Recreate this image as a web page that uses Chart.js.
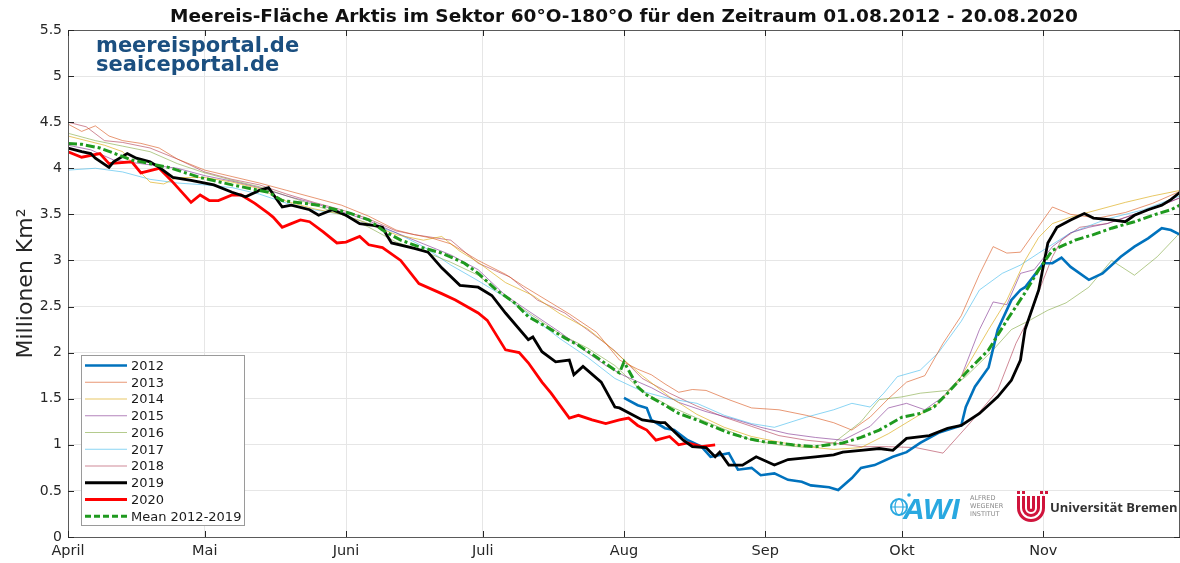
<!DOCTYPE html>
<html lang="de">
<head>
<meta charset="utf-8">
<title>Meereis-Fläche Arktis</title>
<script src="https://cdn.jsdelivr.net/npm/chart.js@4.4.0/dist/chart.umd.min.js"></script>
<style>
  html, body { margin: 0; padding: 0; background: #fff; }
  #wrap { width: 1180px; height: 563px; position: relative; }
  canvas { display: block; }
</style>
</head>
<body>
<div id="wrap"><canvas id="c" width="1180" height="563"></canvas></div>
<script>
// Days counted from 1 April; axis runs to 1 December (day 244).
const monthDays = [0, 30, 61, 91, 122, 153, 183, 214];
const monthNames = ['April', 'Mai', 'Juni', 'Juli', 'Aug', 'Sep', 'Okt', 'Nov'];

// Sea-ice area, million km², per season
const days2012 = [122,125,127,128,131,133,136,139,141,145,147,150,152,155,158,161,163,167,169,172,174,177,181,184,187,191,196,197,199,202,204,207,209,210,213,214,216,218,220,224,227,231,234,237,240,242,244];
const ice2012  = [1.51,1.43,1.40,1.27,1.18,1.16,1.05,0.98,0.87,0.91,0.73,0.75,0.67,0.69,0.62,0.60,0.56,0.54,0.51,0.64,0.75,0.78,0.87,0.92,1.02,1.13,1.21,1.41,1.63,1.84,2.25,2.57,2.68,2.71,2.90,2.97,2.97,3.03,2.93,2.79,2.86,3.04,3.15,3.24,3.35,3.33,3.28];

const days2013 = [0,3,6,9,12,16,20,24,30,36,42,48,54,60,66,72,76,80,84,90,96,100,104,110,116,121,125,128,131,134,137,140,145,150,156,162,168,172,176,180,184,188,192,196,200,203,206,209,212,216,220,226,232,238,244];
const ice2013  = [4.48,4.40,4.46,4.35,4.30,4.27,4.22,4.10,3.98,3.91,3.84,3.76,3.68,3.60,3.48,3.33,3.28,3.24,3.18,3.00,2.85,2.72,2.60,2.42,2.22,1.92,1.82,1.76,1.66,1.57,1.60,1.59,1.49,1.40,1.38,1.32,1.24,1.16,1.30,1.50,1.68,1.75,2.10,2.40,2.85,3.15,3.08,3.09,3.30,3.58,3.50,3.46,3.52,3.62,3.75];

const days2014 = [0,4,8,12,15,18,21,24,30,36,42,48,54,60,66,72,78,82,86,90,96,102,108,114,118,122,126,132,138,144,150,156,162,168,174,180,185,191,196,202,206,210,213,216,220,226,232,238,244];
const ice2014  = [4.35,4.30,4.25,4.18,4.00,3.85,3.83,3.90,3.90,3.85,3.78,3.64,3.56,3.50,3.40,3.28,3.22,3.26,3.10,2.98,2.76,2.62,2.42,2.26,2.10,1.92,1.75,1.52,1.33,1.19,1.09,1.03,0.98,0.95,0.97,1.12,1.27,1.45,1.74,2.25,2.57,3.00,3.25,3.40,3.47,3.55,3.63,3.70,3.76];

const days2015 = [0,5,10,16,24,30,36,42,48,54,60,66,72,78,84,90,96,102,108,114,118,122,128,134,140,146,152,158,164,170,176,180,184,188,192,196,200,203,206,209,212,216,220,224,228,234,240,244];
const ice2015  = [4.25,4.20,4.09,4.05,4.00,3.92,3.86,3.79,3.70,3.62,3.53,3.43,3.30,3.18,3.06,2.90,2.62,2.42,2.22,2.00,1.86,1.75,1.62,1.46,1.36,1.28,1.19,1.12,1.08,1.05,1.20,1.40,1.45,1.38,1.52,1.74,2.25,2.55,2.52,2.86,2.90,3.15,3.30,3.36,3.40,3.50,3.60,3.68];

const days2016 = [0,6,12,18,24,30,36,42,48,54,60,66,72,78,84,90,96,102,108,114,120,126,132,138,144,150,156,162,168,174,178,183,187,193,197,203,207,211,215,219,224,229,234,239,244];
const ice2016  = [4.38,4.30,4.24,4.18,4.05,3.95,3.87,3.80,3.70,3.60,3.50,3.36,3.20,3.10,2.98,2.84,2.60,2.40,2.20,2.05,1.86,1.58,1.42,1.29,1.17,1.05,1.00,0.97,1.02,1.25,1.49,1.52,1.56,1.59,1.74,2.03,2.25,2.35,2.46,2.54,2.71,3.00,2.84,3.04,3.30];

const days2017 = [0,6,12,18,24,30,36,42,48,54,60,66,72,78,84,90,96,102,108,114,120,126,132,138,144,150,155,162,168,172,176,179,182,187,191,196,200,205,209,213,220,228,236,244];
const ice2017  = [3.98,4.00,3.96,3.88,3.84,3.82,3.79,3.72,3.62,3.55,3.50,3.40,3.30,3.15,2.95,2.78,2.60,2.38,2.15,1.95,1.72,1.58,1.50,1.45,1.32,1.23,1.19,1.30,1.38,1.45,1.41,1.56,1.74,1.81,2.00,2.34,2.68,2.86,2.95,3.08,3.30,3.45,3.55,3.70];

const days2018 = [0,4,8,12,18,24,30,36,42,48,54,60,66,72,76,80,84,90,97,103,109,115,120,126,132,138,144,150,156,162,168,174,180,186,192,198,204,208,211,214,216,218,222,228,234,240,244];
const ice2018  = [4.50,4.45,4.30,4.28,4.22,4.10,3.96,3.88,3.82,3.72,3.63,3.55,3.45,3.32,3.28,3.25,3.22,2.97,2.82,2.57,2.43,2.21,2.02,1.72,1.56,1.42,1.30,1.20,1.10,1.05,1.02,0.98,0.98,0.97,0.91,1.24,1.59,2.10,2.39,2.79,3.04,3.22,3.36,3.40,3.50,3.60,3.68];

const days2019 = [0,3,5,6,9,10,13,15,18,20,23,27,32,36,39,42,44,47,49,53,55,58,61,64,67,69,70,71,76,79,82,86,90,93,96,101,102,104,107,110,111,113,117,120,121,126,130,131,135,137,140,142,143,145,148,151,155,158,164,168,170,174,178,181,184,189,193,196,200,204,207,209,210,213,215,217,220,223,225,229,232,234,237,240,242,244];
const ice2019  = [4.22,4.18,4.16,4.11,4.01,4.07,4.16,4.11,4.07,4.01,3.90,3.87,3.82,3.74,3.69,3.76,3.79,3.58,3.60,3.55,3.49,3.55,3.49,3.40,3.38,3.36,3.27,3.19,3.13,3.09,2.92,2.73,2.71,2.62,2.43,2.14,2.17,2.01,1.90,1.92,1.76,1.85,1.68,1.41,1.40,1.27,1.24,1.24,1.05,0.98,0.97,0.87,0.92,0.78,0.78,0.87,0.78,0.84,0.87,0.89,0.92,0.94,0.96,0.94,1.07,1.10,1.18,1.21,1.34,1.52,1.70,1.92,2.25,2.68,3.19,3.36,3.44,3.51,3.46,3.44,3.42,3.49,3.55,3.60,3.66,3.74];

const days2020 = [0,3,7,9,14,16,20,23,27,29,31,33,36,38,41,44,45,47,49,51,53,56,59,61,64,66,69,73,77,82,85,90,92,96,99,101,104,106,110,112,115,118,121,123,125,127,129,132,134,136,139,142];
const ice2020  = [4.18,4.12,4.16,4.05,4.07,3.95,4.00,3.85,3.63,3.71,3.65,3.65,3.71,3.71,3.62,3.51,3.47,3.36,3.40,3.44,3.42,3.31,3.19,3.20,3.26,3.17,3.14,3.00,2.75,2.64,2.57,2.43,2.35,2.03,2.00,1.89,1.68,1.56,1.29,1.32,1.27,1.23,1.27,1.29,1.21,1.16,1.05,1.09,1.00,1.02,0.98,1.00];

const daysMean = [0,3,7,14,22,29,36,44,47,55,62,66,69,73,77,82,87,90,94,98,101,105,109,112,116,120,121,122,125,127,131,134,138,142,145,149,153,156,159,164,167,170,174,178,183,187,190,193,197,202,206,210,213,216,221,225,229,234,238,242,244];
const iceMean  = [4.27,4.26,4.22,4.09,4.01,3.90,3.82,3.74,3.65,3.60,3.51,3.44,3.33,3.22,3.15,3.08,2.97,2.86,2.68,2.54,2.39,2.28,2.16,2.08,1.95,1.81,1.78,1.90,1.63,1.54,1.43,1.34,1.27,1.19,1.13,1.07,1.03,1.02,1.00,0.98,1.00,1.02,1.08,1.16,1.30,1.34,1.41,1.56,1.78,2.03,2.35,2.65,2.90,3.11,3.22,3.28,3.35,3.42,3.49,3.55,3.60];

const FONT = '"DejaVu Sans", "Liberation Sans", sans-serif';
const AXIS_COLOR = '#262626';

function pts(days, vals) {
  return days.map((d, i) => ({ x: d, y: vals[i] }));
}

function series(label, days, vals, color, width, dash) {
  return {
    label: label,
    data: pts(days, vals),
    borderColor: color,
    backgroundColor: color,
    borderWidth: width,
    borderDash: dash || [],
    pointRadius: 0,
    pointHoverRadius: 0,
    tension: 0,
    fill: false
  };
}

// Thin seasons first, bold seasons and mean on top
const datasets = [
  series('2012', days2012, ice2012, '#0072BD', 2.6),
  series('2013', days2013, ice2013, 'rgba(217,83,25,0.6)', 1),
  series('2014', days2014, ice2014, 'rgba(220,170,20,0.65)', 1),
  series('2015', days2015, ice2015, 'rgba(126,47,142,0.6)', 1),
  series('2016', days2016, ice2016, 'rgba(119,160,48,0.55)', 1),
  series('2017', days2017, ice2017, 'rgba(77,190,238,0.65)', 1),
  series('2018', days2018, ice2018, 'rgba(162,20,47,0.5)', 1),
  series('2019', days2019, ice2019, '#000000', 2.8),
  series('2020', days2020, ice2020, '#ff0000', 2.8),
  series('Mean 2012-2019', daysMean, iceMean, '#1f9a1f', 3, [9, 3, 3, 3])
];
// drawing order: bold lines above thin ones
const orderTop = { '2012': 2, '2019': 1, '2020': 1, 'Mean 2012-2019': 0 };
datasets.forEach(ds => { ds.order = (ds.label in orderTop) ? orderTop[ds.label] : 5; });

const frame = {
  id: 'frame',
  afterDraw(chart) {
    const ctx = chart.ctx;
    const a = chart.chartArea;
    const xs = chart.scales.x, ys = chart.scales.y;
    ctx.save();

    // axes box
    ctx.strokeStyle = '#5a5a5a';
    ctx.lineWidth = 1;
    ctx.strokeRect(Math.round(a.left) + 0.5, Math.round(a.top) + 0.5,
                   Math.round(a.right - a.left) - 1, Math.round(a.bottom - a.top));

    // inward tick marks on all four sides
    ctx.strokeStyle = AXIS_COLOR;
    ctx.beginPath();
    monthDays.forEach(d => {
      const px = Math.round(xs.getPixelForValue(d)) + 0.5;
      ctx.moveTo(px, a.bottom); ctx.lineTo(px, a.bottom - 6);
      ctx.moveTo(px, a.top); ctx.lineTo(px, a.top + 6);
    });
    ys.ticks.forEach(t => {
      const py = Math.round(ys.getPixelForValue(t.value)) + 0.5;
      ctx.moveTo(a.left, py); ctx.lineTo(a.left + 6, py);
      ctx.moveTo(a.right, py); ctx.lineTo(a.right - 6, py);
    });
    ctx.stroke();

    // title
    ctx.fillStyle = '#111';
    ctx.font = 'bold 18.5px ' + FONT;
    ctx.textAlign = 'center';
    ctx.textBaseline = 'middle';
    ctx.fillText('Meereis-Fläche Arktis im Sektor 60°O-180°O für den Zeitraum 01.08.2012 - 20.08.2020',
                 (a.left + a.right) / 2, 17);

    // portal names
    ctx.fillStyle = '#1b4f80';
    ctx.font = 'bold 21px ' + FONT;
    ctx.textAlign = 'left';
    ctx.textBaseline = 'alphabetic';
    ctx.fillText('meereisportal.de', 96, 52);
    ctx.fillText('seaiceportal.de', 96, 71);

    // legend
    const lx = 81, ly = 355, lw = 163, lh = 170;
    ctx.fillStyle = '#fff';
    ctx.fillRect(lx, ly, lw, lh);
    ctx.strokeStyle = '#9a9a9a';
    ctx.lineWidth = 1;
    ctx.strokeRect(lx + 0.5, ly + 0.5, lw, lh);
    ctx.font = '13px ' + FONT;
    ctx.textBaseline = 'middle';
    chart.data.datasets.forEach((ds, i) => {
      const yy = ly + 10.5 + i * 16.75;
      ctx.strokeStyle = ds.borderColor;
      ctx.lineWidth = ds.borderWidth;
      ctx.setLineDash(ds.borderDash.length ? [6, 3] : []);
      ctx.beginPath();
      ctx.moveTo(85, yy); ctx.lineTo(127, yy);
      ctx.stroke();
      ctx.setLineDash([]);
      ctx.fillStyle = '#1a1a1a';
      ctx.fillText(ds.label, 131, yy + 1);
    });

    // AWI logo
    ctx.strokeStyle = '#29a8e0';
    ctx.fillStyle = '#29a8e0';
    ctx.lineWidth = 2;
    ctx.beginPath();
    ctx.arc(899, 507, 8, 0, Math.PI * 2);
    ctx.stroke();
    ctx.lineWidth = 1.2;
    ctx.beginPath();
    ctx.ellipse(899, 507, 4, 8, 0, 0, Math.PI * 2);
    ctx.moveTo(891, 507); ctx.lineTo(907, 507);
    ctx.stroke();
    ctx.beginPath();
    ctx.arc(909, 495, 1.8, 0, Math.PI * 2);
    ctx.fill();
    ctx.font = 'italic bold 30px "Liberation Sans", sans-serif';
    ctx.textBaseline = 'alphabetic';
    ctx.fillText('AWI', 903, 519);
    ctx.fillStyle = '#8a8a8a';
    ctx.font = '6.5px ' + FONT;
    ctx.fillText('ALFRED', 970, 500);
    ctx.fillText('WEGENER', 970, 508);
    ctx.fillText('INSTITUT', 970, 516);

    // Universität Bremen logo
    ctx.strokeStyle = '#d0143c';
    ctx.fillStyle = '#d0143c';
    ctx.lineWidth = 3;
    [12.5, 7.5, 2.5].forEach(r => {
      ctx.beginPath();
      ctx.moveTo(1031 - r, 496);
      ctx.lineTo(1031 - r, 508);
      ctx.arc(1031, 508, r, Math.PI, 0, true);
      ctx.lineTo(1031 + r, 496);
      ctx.stroke();
    });
    [1017, 1022, 1040, 1045].forEach(x => ctx.fillRect(x, 491, 3, 3));
    ctx.fillStyle = '#333';
    ctx.font = 'bold 13px "Open Sans", ' + FONT;
    ctx.fillText('Universität Bremen', 1050, 512);

    ctx.restore();
  }
};

new Chart(document.getElementById('c'), {
  type: 'line',
  data: { datasets: datasets },
  options: {
    responsive: false,
    animation: false,
    events: [],
    layout: { padding: { top: 30, right: 0, bottom: 0, left: 0 } },
    plugins: {
      legend: { display: false },
      tooltip: { enabled: false },
      title: { display: false }
    },
    scales: {
      x: {
        type: 'linear',
        min: 0,
        max: 244,
        afterBuildTicks: s => { s.ticks = monthDays.map(v => ({ value: v })); },
        afterFit: s => { s.height = 26; },
        ticks: {
          autoSkip: false,
          maxRotation: 0,
          padding: 6,
          color: AXIS_COLOR,
          font: { family: FONT, size: 14.5 },
          callback: v => monthNames[monthDays.indexOf(v)]
        },
        grid: { color: '#e6e6e6', drawTicks: false },
        border: { display: false }
      },
      y: {
        min: 0,
        max: 5.5,
        afterFit: s => { s.width = 68; },
        ticks: {
          stepSize: 0.5,
          padding: 6,
          color: AXIS_COLOR,
          font: { family: FONT, size: 14 },
          callback: v => String(v)
        },
        grid: { color: '#e6e6e6', drawTicks: false },
        border: { display: false },
        title: {
          display: true,
          text: 'Millionen Km²',
          color: AXIS_COLOR,
          font: { family: FONT, size: 22 },
          padding: { top: 13, bottom: 0 }
        }
      }
    }
  },
  plugins: [frame]
});
</script>
</body>
</html>
